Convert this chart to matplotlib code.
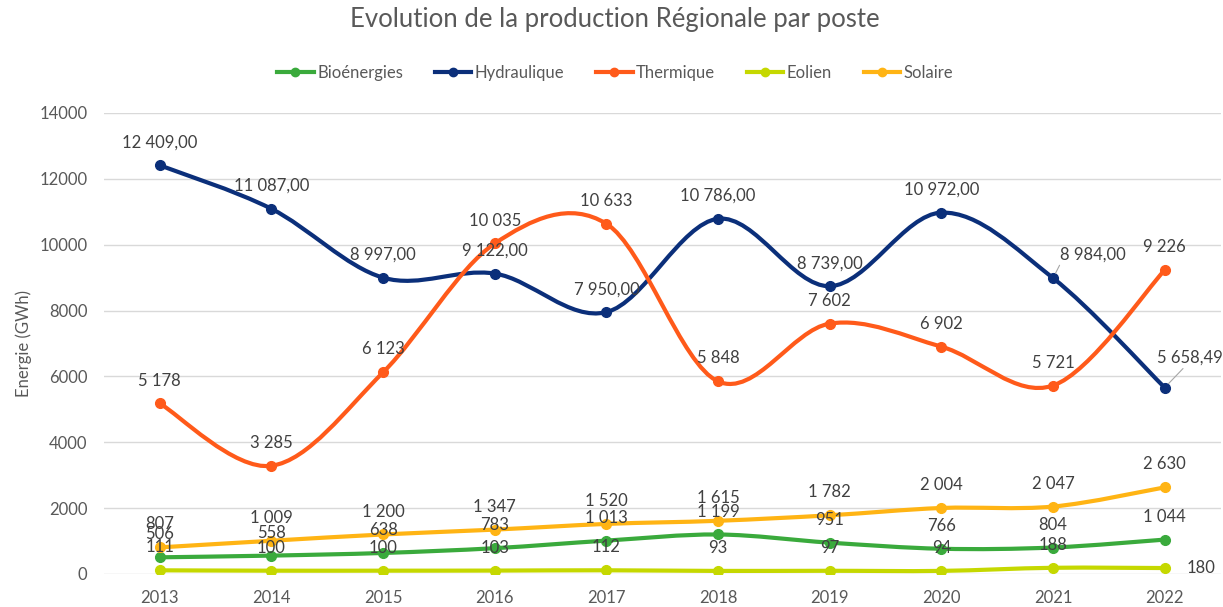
import numpy as np
import matplotlib.pyplot as plt
from matplotlib.path import Path
from matplotlib.patches import PathPatch

plt.rcParams['font.family'] = ['Lato', 'DejaVu Sans']

years = [2013, 2014, 2015, 2016, 2017, 2018, 2019, 2020, 2021, 2022]
bioenergies = [506, 558, 638, 783, 1013, 1199, 951, 766, 804, 1044]
hydraulique = [12409, 11087, 8997, 9122, 7950, 10786, 8739, 10972, 8984, 5658.49]
thermique = [5178, 3285, 6123, 10035, 10633, 5848, 7602, 6902, 5721, 9226]
eolien = [111, 100, 100, 103, 112, 93, 97, 94, 188, 180]
solaire = [807, 1009, 1200, 1347, 1520, 1615, 1782, 2004, 2047, 2630]

series = [
    ("Bioénergies", bioenergies, "#3aaa3c", False),
    ("Hydraulique", hydraulique, "#0b2f7a", True),
    ("Thermique", thermique, "#ff5a1a", False),
    ("Eolien", eolien, "#c5d800", False),
    ("Solaire", solaire, "#ffb414", False),
]

TXT = "#595959"
LBL = "#404040"


def smooth_path(x, y):
    # excel-like smoothed line (catmull-rom as bezier)
    pts = np.column_stack([x, y]).astype(float)
    n = len(pts)
    verts = [pts[0]]
    codes = [Path.MOVETO]
    for i in range(n - 1):
        p0 = pts[i - 1] if i > 0 else pts[i]
        p3 = pts[i + 2] if i + 2 < n else pts[i + 1]
        c1 = pts[i] + (pts[i + 1] - p0) / 6
        c2 = pts[i + 1] - (p3 - pts[i]) / 6
        verts += [c1, c2, pts[i + 1]]
        codes += [Path.CURVE4] * 3
    return Path(verts, codes)


def fmt(v, decimals):
    if decimals:
        s = "{:,.2f}".format(v)
        return s.replace(",", " ").replace(".", ",")
    return "{:,.0f}".format(v).replace(",", " ")


fig = plt.figure(figsize=(12.23, 6.07), dpi=100)
ax = fig.add_axes([0.085, 0.0544, 0.913, 0.7596])

for i, (name, vals, col, dec) in enumerate(series):
    patch = PathPatch(smooth_path(years, vals), facecolor="none", edgecolor=col,
                      lw=3, capstyle="round", joinstyle="round", zorder=3 + i)
    ax.add_patch(patch)
    ax.plot(years, vals, "o", color=col, markersize=7, zorder=3 + i, label=None)
    ax.plot([], [], "-o", color=col, lw=3, markersize=6, label=name)

    for j, (x, v) in enumerate(zip(years, vals)):
        txt = fmt(v, dec)
        if name == "Hydraulique" and x == 2021:
            ax.annotate(txt, (x, v), xytext=(29, 17), textcoords="offset points",
                        ha="center", va="center", fontsize=12, color=LBL, zorder=20,
                        arrowprops=dict(arrowstyle="-", color="#a6a6a6", lw=0.8,
                                        relpos=(0.02, 0.1), shrinkA=0, shrinkB=4))
        elif name == "Hydraulique" and x == 2022:
            ax.annotate(txt, (x, v), xytext=(18, 21.5), textcoords="offset points",
                        ha="center", va="center", fontsize=12, color=LBL, zorder=20,
                        arrowprops=dict(arrowstyle="-", color="#a6a6a6", lw=0.8,
                                        relpos=(0.45, 0.05), shrinkA=0, shrinkB=4))
        elif name == "Eolien" and x == 2022:
            ax.annotate(txt, (x, v), xytext=(16, 0), textcoords="offset points",
                        ha="left", va="center", fontsize=12, color=LBL, zorder=20)
        else:
            ax.annotate(txt, (x, v), xytext=(0, 16.5), textcoords="offset points",
                        ha="center", va="center", fontsize=12, color=LBL, zorder=20)

ax.set_xlim(2012.5, 2022.5)
ax.set_ylim(0, 14000)
ax.set_xticks(years)
ax.set_yticks(np.arange(0, 14001, 2000))
ax.grid(axis="y", color="#d9d9d9", lw=1)
ax.set_axisbelow(True)
for s in ax.spines.values():
    s.set_visible(False)
ax.tick_params(length=0, labelsize=12, colors=TXT)
ax.tick_params(axis="x", pad=11.5)
ax.tick_params(axis="y", pad=12)
ax.set_ylabel("Energie (GWh)", fontsize=12, color=TXT, labelpad=5)

fig.suptitle("Evolution de la production Régionale par poste", fontsize=18.5,
             color=TXT, x=0.503, y=0.988)
fig.legend(loc="center", bbox_to_anchor=(0.503, 0.88), ncol=5, frameon=False,
           fontsize=12, labelcolor=TXT, handlelength=2.2, handletextpad=0.2,
           columnspacing=1.9)

plt.savefig("out.png", dpi=100)
